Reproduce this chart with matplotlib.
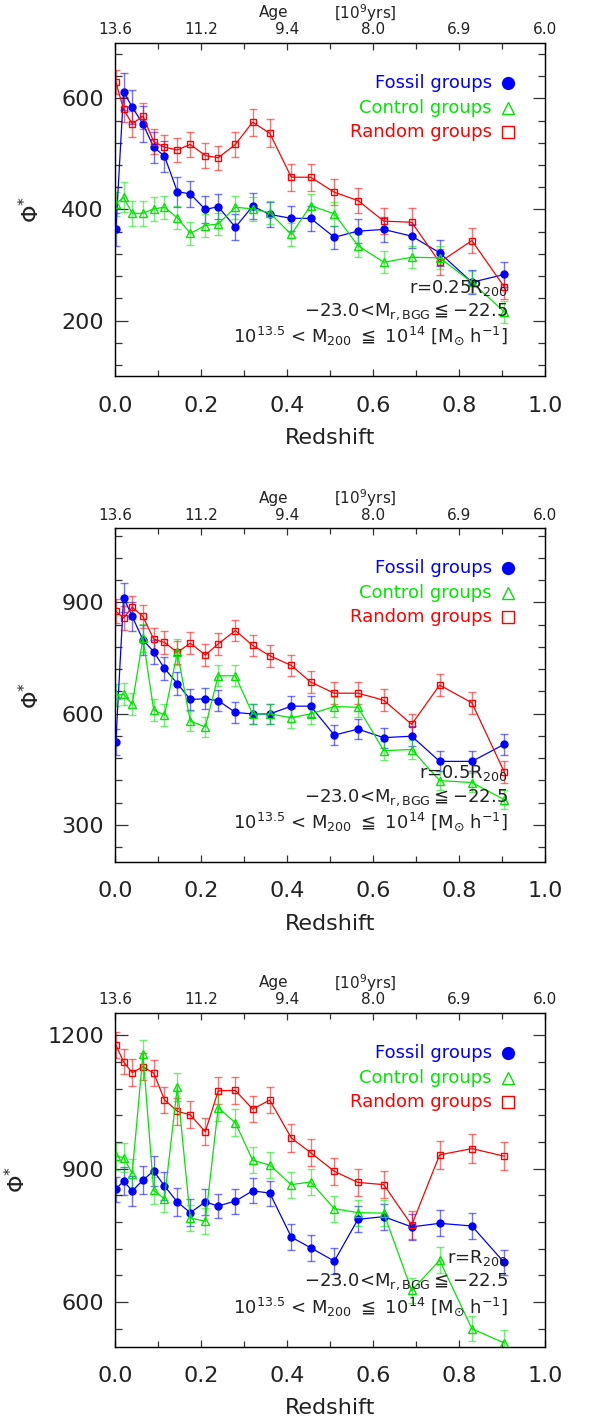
import matplotlib
matplotlib.use("Agg")
import matplotlib.pyplot as plt
from matplotlib.ticker import MultipleLocator, FixedLocator, FormatStrFormatter

plt.rcParams['font.family'] = ['DejaVu Sans']
plt.rcParams['mathtext.fontset'] = 'dejavusans'
plt.rcParams['mathtext.default'] = 'regular'

# redshift bins shared by every sample
redshift = [0.002, 0.020, 0.040, 0.065, 0.090, 0.115, 0.145, 0.175, 0.210, 0.240, 0.280,
            0.320, 0.360, 0.410, 0.455, 0.510, 0.565, 0.625, 0.690, 0.755, 0.830, 0.905]

# top-axis ages (Gyr) at redshift 0, 0.2, ... 1.0
age_ticks = [0.0, 0.2, 0.4, 0.6, 0.8, 1.0]
age_labels = ['13.6', '11.2', '9.4', '8.0', '6.9', '6.0']

# r = 0.25 R200
fossil_025 = [364, 612, 584, 554, 512, 496, 432, 428, 400, 405, 368, 406, 391, 384, 384,
              350, 361, 364, 352, 322, 269, 283]
fossil_025_err = [30, 33, 31, 33, 28, 28, 27, 24, 24, 23, 23, 23, 22, 22, 22, 21, 21, 22,
                  22, 23, 22, 22]
control_025 = [410, 422, 393, 393, 401, 404, 385, 357, 371, 374, 404, 401, 394, 355, 407,
               392, 335, 305, 314, 313, 269, 216]
control_025_err = [22, 27, 22, 22, 21, 21, 21, 21, 20, 20, 21, 21, 21, 20, 21, 21, 21, 20,
                   20, 21, 20, 20]
random_025 = [629, 580, 554, 568, 522, 512, 507, 517, 497, 493, 517, 557, 537, 458, 458,
              431, 416, 379, 377, 305, 344, 261]
random_025_err = [22, 22, 23, 23, 22, 22, 22, 22, 22, 22, 22, 24, 25, 24, 24, 23, 23, 24,
                  25, 23, 22, 22]

# r = 0.5 R200
fossil_05 = [524, 913, 862, 799, 767, 722, 681, 638, 640, 635, 603, 599, 599, 620, 620,
             542, 558, 535, 539, 471, 471, 517]
fossil_05_err = [35, 39, 40, 40, 32, 32, 30, 28, 28, 28, 28, 27, 27, 28, 28, 27, 27, 27,
                 27, 27, 27, 29]
control_05 = [650, 652, 625, 803, 610, 596, 765, 580, 564, 702, 702, 599, 599, 589, 599,
              619, 617, 500, 503, 419, 414, 368]
control_05_err = [30, 30, 30, 38, 29, 29, 35, 28, 28, 28, 28, 27, 27, 27, 27, 27, 27, 26,
                  26, 26, 26, 26]
random_05 = [876, 858, 887, 862, 801, 792, 765, 790, 758, 788, 824, 784, 756, 730, 685,
             655, 655, 636, 571, 677, 629, 443]
random_05_err = [32, 32, 31, 31, 30, 30, 30, 30, 29, 29, 29, 29, 29, 29, 29, 29, 29, 29,
                 29, 29, 29, 29]

# r = R200
fossil_1 = [854, 872, 850, 874, 895, 861, 825, 801, 825, 816, 827, 850, 845, 746, 722,
            692, 786, 792, 769, 777, 771, 689]
fossil_1_err = [28, 32, 33, 32, 34, 32, 31, 30, 29, 28, 28, 28, 28, 30, 29, 29, 29, 29,
                29, 29, 29, 29]
control_1 = [928, 925, 889, 1157, 851, 832, 1084, 789, 782, 1037, 1003, 919, 908, 864, 870,
             810, 801, 800, 626, 694, 540, 508]
control_1_err = [30, 32, 33, 32, 30, 30, 31, 29, 29, 30, 30, 29, 29, 29, 29, 29, 29, 29,
                 28, 29, 28, 28]
random_1 = [1178, 1140, 1116, 1129, 1115, 1055, 1029, 1021, 983, 1075, 1076, 1034, 1054,
            969, 936, 894, 869, 864, 773, 931, 945, 928]
random_1_err = [30, 28, 30, 30, 30, 29, 30, 30, 30, 30, 30, 30, 30, 31, 31, 31, 31, 31,
                31, 32, 32, 32]

radius_labels = [r'r=0.25R$_{200}$', r'r=0.5R$_{200}$', r'r=R$_{200}$']
mag_label = r'$-$23.0<M$_{r,BGG}$$\leqq$$-$22.5'
mass_label = r'10$^{13.5}$ < M$_{200}$ $\leqq$ 10$^{14}$ [M$_{\odot}$ h$^{-1}$]'

panels = [
    dict(f=fossil_025, fe=fossil_025_err, c=control_025, ce=control_025_err,
         r=random_025, re=random_025_err, ylim=(100, 700), minor=40,
         ticks=[200, 400, 600]),
    dict(f=fossil_05, fe=fossil_05_err, c=control_05, ce=control_05_err,
         r=random_05, re=random_05_err, ylim=(200, 1100), minor=60,
         ticks=[300, 600, 900]),
    dict(f=fossil_1, fe=fossil_1_err, c=control_1, ce=control_1_err,
         r=random_1, re=random_1_err, ylim=(500, 1250), minor=60,
         ticks=[600, 900, 1200]),
]

BLUE = '#0000ff'
GREEN = '#00e600'
RED = '#ff0000'
INK = '#222222'

W, H = 602, 1423
fig = plt.figure(figsize=(W / 100, H / 100), dpi=100)

ax_left, ax_right = 115, 545
tops = [42.7, 528.3, 1013.0]
ax_h = 333.5


def series(ax, y, yerr, color, marker, ms, filled):
    ax.errorbar(redshift, y, yerr=yerr, fmt='none', ecolor=color, alpha=0.55,
                elinewidth=1.0, capsize=3.0, capthick=1.0, zorder=2)
    ax.plot(redshift, y, color=color, lw=0.9, marker=marker, ms=ms,
            mfc=color if filled else 'none', mec=color, mew=1.0, zorder=3)


for i, p in enumerate(panels):
    top = tops[i]
    rect = [ax_left / W, 1 - (top + ax_h) / H, (ax_right - ax_left) / W, ax_h / H]
    ax = fig.add_axes(rect)

    series(ax, p['f'], p['fe'], BLUE, 'o', 5.0, True)
    series(ax, p['r'], p['re'], RED, 's', 5.0, False)
    series(ax, p['c'], p['ce'], GREEN, '^', 5.5, False)

    ax.set_xlim(0, 1)
    ax.set_ylim(*p['ylim'])
    ax.xaxis.set_major_locator(MultipleLocator(0.2))
    ax.xaxis.set_minor_locator(MultipleLocator(0.1))
    ax.xaxis.set_major_formatter(FormatStrFormatter('%.1f'))
    ax.yaxis.set_major_locator(FixedLocator(p['ticks']))
    ax.yaxis.set_minor_locator(MultipleLocator(p['minor']))
    ax.tick_params(axis='x', which='major', direction='in', length=5, width=0.9,
                   labelsize=16, pad=14, colors='#333333', labelcolor=INK)
    ax.tick_params(axis='x', which='minor', direction='in', length=4, width=0.9,
                   colors='#333333')
    ax.tick_params(axis='y', which='major', direction='in', length=9, width=0.9,
                   labelsize=16, pad=8, right=True, colors='#333333', labelcolor=INK)
    ax.tick_params(axis='y', which='minor', direction='in', length=5, width=0.9,
                   right=True, colors='#333333')
    for s in ax.spines.values():
        s.set_linewidth(1.0)
        s.set_color(INK)

    ax.set_xlabel('Redshift', fontsize=16, labelpad=9, color=INK)
    ax.set_ylabel(r'$\Phi^{*}$', fontsize=16, labelpad=13, color=INK)

    # age axis along the top
    top_ax = ax.twiny()
    top_ax.set_xlim(0, 1)
    top_ax.xaxis.set_major_locator(FixedLocator(age_ticks))
    top_ax.xaxis.set_minor_locator(MultipleLocator(0.1))
    top_ax.set_xticklabels(age_labels)
    top_ax.tick_params(axis='x', which='major', direction='in', length=5, width=0.9,
                       labelsize=11, pad=4, colors='#333333', labelcolor=INK)
    top_ax.tick_params(axis='x', which='minor', direction='in', length=4, width=0.9,
                       colors='#333333')
    top_ax.text(0.368, 1.09, 'Age', transform=ax.transAxes, ha='center', va='center',
                fontsize=11, color=INK)
    top_ax.text(0.583, 1.09, r'[10$^{9}$yrs]', transform=ax.transAxes, ha='center',
                va='center', fontsize=11, color=INK)

    # legend: right-aligned labels with the symbol after each
    legend_rows = [('Fossil groups', BLUE, 'o', True, 0.880),
                   ('Control groups', GREEN, '^', False, 0.805),
                   ('Random groups', RED, 's', False, 0.733)]
    for label, color, marker, filled, yy in legend_rows:
        ax.text(0.877, yy, label, transform=ax.transAxes, ha='right', va='center',
                fontsize=13, color=color)
        ax.plot([0.915], [yy], marker=marker, ms=8.5 if marker != 's' else 8,
                mfc=color if filled else 'none', mec=color, mew=1.0,
                transform=ax.transAxes, clip_on=False, ls='none')

    # sample description
    ax.text(0.913, 0.265, radius_labels[i], transform=ax.transAxes, ha='right',
            va='center', fontsize=13, color=INK)
    ax.text(0.913, 0.193, mag_label, transform=ax.transAxes, ha='right',
            va='center', fontsize=13, color=INK)
    ax.text(0.913, 0.120, mass_label, transform=ax.transAxes, ha='right',
            va='center', fontsize=13, color=INK)

fig.savefig('out.png', dpi=100)
